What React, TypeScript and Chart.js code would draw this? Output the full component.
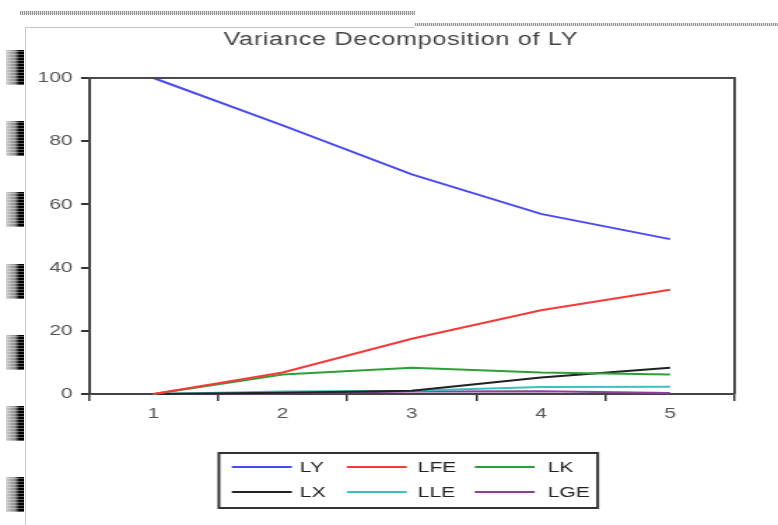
import React, { useEffect, useRef } from "react";
import { Chart, registerables } from "chart.js";

Chart.register(...registerables);

const periods = ["1", "2", "3", "4", "5"];
const seriesNames = ["LY", "LFE", "LK", "LX", "LLE", "LGE"];
const LY = [100, 85, 69.5, 57, 49];
const LFE = [0, 6.8, 17.5, 26.5, 33];
const LK = [0, 6.2, 8.3, 6.8, 6.2];
const LX = [0, 0.4, 1.0, 5.2, 8.3];
const LLE = [0, 0.8, 1.0, 2.2, 2.3];
const LGE = [0, 0.2, 0.8, 0.9, 0.3];
const seriesColors = ["#4a4af5", "#f53a3a", "#2f9f3a", "#222222", "#3fbfbf", "#8e3f9c"];
const titleText = "Variance Decomposition of LY";

const SX = 1.4; // horizontal stretch of the whole picture
const W = 778;
const H = 525;
const IW = Math.round(W / SX);
const FONT = "'Liberation Sans', Arial, sans-serif";

const frameAndTitle = {
  id: "frameAndTitle",
  afterDatasetsDraw(chart: any) {
    const { ctx, chartArea } = chart;
    ctx.save();
    ctx.strokeStyle = "#4a4a4a";
    ctx.lineWidth = 2;
    ctx.beginPath();
    ctx.moveTo(chartArea.left, chartArea.top);
    ctx.lineTo(chartArea.right, chartArea.top);
    ctx.lineTo(chartArea.right, chartArea.bottom);
    ctx.stroke();
    ctx.restore();
  },
  afterDraw(chart: any) {
    const { ctx } = chart;
    ctx.save();
    // title
    ctx.fillStyle = "#444";
    ctx.font = `18px ${FONT}`;
    try { (ctx as any).letterSpacing = "0.5px"; } catch (e) {}
    ctx.textAlign = "center";
    ctx.textBaseline = "middle";
    ctx.fillText(titleText, 401 / SX, 40);
    try { (ctx as any).letterSpacing = "0px"; } catch (e) {}

    // legend
    const boxL = 219 / SX, boxR = 598 / SX, boxT = 453, boxB = 508;
    ctx.strokeStyle = "#333";
    ctx.lineWidth = 2;
    ctx.strokeRect(boxL, boxT, boxR - boxL, boxB - boxT);
    const rows = [467, 492];
    const lineX = [232, 347, 475].map((v) => v / SX);
    const textX = [300, 418, 548].map((v) => v / SX);
    const lineLen = 60 / SX;
    ctx.font = `15px ${FONT}`;
    ctx.textAlign = "left";
    ctx.textBaseline = "middle";
    chart.data.datasets.forEach((ds: any, i: number) => {
      const r = Math.floor(i / 3), c = i % 3;
      const y = rows[r];
      ctx.strokeStyle = ds.borderColor;
      ctx.lineWidth = 2;
      ctx.beginPath();
      ctx.moveTo(lineX[c], y);
      ctx.lineTo(lineX[c] + lineLen, y);
      ctx.stroke();
      ctx.fillStyle = "#222";
      ctx.fillText(ds.label, textX[c], y + 1);
    });
    ctx.restore();
  },
};

export default function App() {
  const ref = useRef<HTMLCanvasElement>(null);
  useEffect(() => {
    if (!ref.current) return;
    const seriesData = [LY, LFE, LK, LX, LLE, LGE];
    const chart = new Chart(ref.current, {
      type: "line",
      data: {
        labels: periods,
        datasets: seriesNames.map((name, i) => ({
          label: name,
          data: seriesData[i],
          borderColor: seriesColors[i],
          backgroundColor: seriesColors[i],
          borderWidth: 2,
          pointRadius: 0,
          tension: 0,
          fill: false,
          clip: false,
        })),
      },
      options: {
        responsive: false,
        animation: false,
        events: [],
        layout: { padding: { left: 0, right: IW - 735 / SX, top: 78, bottom: H - 394 - 40 } },
        plugins: { legend: { display: false }, title: { display: false }, tooltip: { enabled: false } },
        scales: {
          x: {
            type: "category",
            offset: true,
            grid: { offset: true, drawOnChartArea: false, drawTicks: true, tickLength: 7, color: "#333", lineWidth: 1.5 },
            border: { display: true, color: "#444", width: 2 },
            ticks: { font: { family: FONT, size: 15 }, color: "#555", padding: 4, maxRotation: 0, autoSkip: false },
            afterFit: (s: any) => { s.height = 40; },
          },
          y: {
            min: 0,
            max: 100,
            grid: { drawOnChartArea: false, drawTicks: true, tickLength: 8 / SX, color: "#333", lineWidth: 2 },
            border: { display: true, color: "#444", width: 2 },
            ticks: { stepSize: 20, font: { family: FONT, size: 15 }, color: "#555", padding: 6 },
            afterFit: (s: any) => { s.width = 89 / SX; },
          },
        },
      },
      plugins: [frameAndTitle],
    });
    return () => chart.destroy();
  }, []);

  const blocks = [0, 1, 2, 3, 4, 5, 6].map((i) => (
    <div
      key={i}
      style={{
        position: "absolute",
        left: 6,
        top: 50 + i * 71.2,
        width: 18,
        height: 35,
        background:
          "repeating-linear-gradient(0deg, rgba(255,255,255,0.35) 0 1px, rgba(0,0,0,0) 1px 3px), linear-gradient(to right, #cfcfcf, #8a8a8a 50%, #000 75%, #000)",
      }}
    />
  ));

  return (
    <div style={{ position: "absolute", left: 0, top: 0, width: W, height: H, background: "#fff", overflow: "hidden" }}>
      <div style={{ position: "absolute", left: 20, top: 11, width: 395, height: 4, background: "repeating-linear-gradient(90deg, #999 0 1px, #ddd 1px 2px)" }} />
      <div style={{ position: "absolute", left: 415, top: 23, width: 363, height: 3, background: "repeating-linear-gradient(90deg, #999 0 1px, #ddd 1px 2px)" }} />
      <div style={{ position: "absolute", left: 25, top: 27, width: 390, height: 1, background: "#c8c8c8" }} />
      <div style={{ position: "absolute", left: 25, top: 27, width: 1, height: 498, background: "#c8c8c8" }} />
      {blocks}
      <canvas ref={ref} width={IW} height={H} style={{ position: "absolute", left: 0, top: 0, width: W, height: H }} />
    </div>
  );
}
